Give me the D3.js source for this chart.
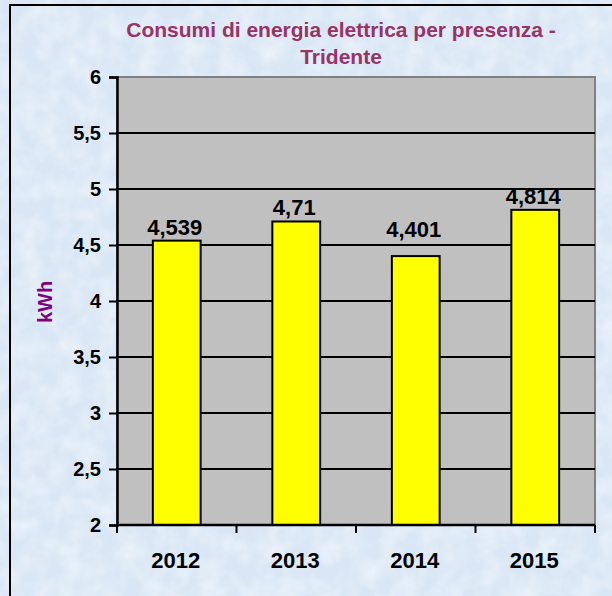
<!DOCTYPE html>
<html>
<head>
<meta charset="utf-8">
<script src="https://cdn.jsdelivr.net/npm/d3@7"></script>
<style>
  body { margin: 0; background: #e0ecf7; }
  text { font-family: "Liberation Sans", Arial, sans-serif; font-weight: bold; }
</style>
</head>
<body>
<div id="chart"></div>
<script>
// dati
var years = ["2012", "2013", "2014", "2015"];
var consumi = [4.539, 4.71, 4.401, 4.814];
var yTicks = [2, 2.5, 3, 3.5, 4, 4.5, 5, 5.5, 6];
var titleLines = ["Consumi di energia elettrica per presenza -", "Tridente"];

var width = 612;
var height = 596;
var plot = { left: 117, right: 595, top: 77, bottom: 525 };

var svg = d3
  .select("#chart")
  .append("svg")
  .attr("width", width)
  .attr("height", height);

// sfondo con un po' di texture
var defs = svg.append("defs");
var filt = defs.append("filter").attr("id", "tex");
filt.append("feTurbulence")
  .attr("type", "fractalNoise")
  .attr("baseFrequency", 0.05)
  .attr("numOctaves", 3)
  .attr("seed", 4);
filt.append("feColorMatrix")
  .attr("values", "0 0 0 0 1  0 0 0 0 1  0 0 0 0 1  0 0 0 0.8 -0.25");

svg.append("rect")
  .attr("width", width)
  .attr("height", height)
  .attr("fill", "#d8e6f5");
svg.append("rect")
  .attr("width", width)
  .attr("height", height)
  .attr("filter", "url(#tex)");

// cornice (solo sinistra e alto visibili)
svg.append("rect")
  .attr("x", 10)
  .attr("y", 5)
  .attr("width", 700)
  .attr("height", 700)
  .attr("fill", "none")
  .attr("stroke", "#000")
  .attr("stroke-width", 2);

var x = d3
  .scaleBand()
  .domain(years)
  .range([plot.left, plot.right])
  .paddingInner(0.6)
  .paddingOuter(0.3);

var y = d3.scaleLinear().domain([2, 6]).range([plot.bottom, plot.top]);

// area del grafico
svg.append("rect")
  .attr("x", plot.left)
  .attr("y", plot.top)
  .attr("width", plot.right - plot.left)
  .attr("height", plot.bottom - plot.top)
  .attr("fill", "#c0c0c0")
  .attr("stroke", "#808080")
  .attr("stroke-width", 2);

// griglia
svg.append("g")
  .selectAll("line")
  .data(yTicks.filter((d) => d > 2 && d < 6))
  .enter()
  .append("line")
  .attr("x1", plot.left)
  .attr("x2", plot.right)
  .attr("y1", (d) => y(d))
  .attr("y2", (d) => y(d))
  .attr("stroke", "#000")
  .attr("stroke-width", 2);

// asse Y
var axisLeft = d3
  .axisLeft(y)
  .tickValues(yTicks)
  .tickSize(8)
  .tickPadding(8)
  .tickFormat((d) => String(d).replace(".", ","));

var gy = svg.append("g")
  .attr("transform", `translate(${plot.left} 0)`)
  .call(axisLeft);
gy.select(".domain").attr("stroke-width", 2.5);
gy.selectAll(".tick line").attr("stroke-width", 2);
gy.selectAll(".tick text")
  .attr("font-size", 20)
  .attr("fill", "#000")
  .attr("font-family", null);

// barre
svg.append("g")
  .selectAll("rect")
  .data(consumi)
  .enter()
  .append("rect")
  .attr("x", (d, i) => x(years[i]))
  .attr("y", (d) => y(d))
  .attr("width", x.bandwidth())
  .attr("height", (d) => y(2) - y(d))
  .attr("fill", "#ffff00")
  .attr("stroke", "#000")
  .attr("stroke-width", 2);

// etichette valori
svg.append("g")
  .selectAll("text")
  .data(consumi)
  .enter()
  .append("text")
  .attr("x", (d, i) => x(years[i]) + x.bandwidth() / 2 - 2)
  .attr("y", (d) => y(Math.max(d, 4.52)) - 6)
  .attr("text-anchor", "middle")
  .attr("font-size", 22)
  .attr("fill", "#000")
  .text((d) => String(d).replace(".", ","));

// asse X: tacche ai confini delle categorie
var xb = d3.scaleLinear().domain([0, years.length]).range([plot.left, plot.right]);
svg.append("line")
  .attr("x1", plot.left)
  .attr("x2", plot.right)
  .attr("y1", plot.bottom)
  .attr("y2", plot.bottom)
  .attr("stroke", "#000")
  .attr("stroke-width", 2.5);
svg.append("g")
  .selectAll("line")
  .data(d3.range(years.length + 1))
  .enter()
  .append("line")
  .attr("x1", (d) => xb(d))
  .attr("x2", (d) => xb(d))
  .attr("y1", plot.bottom)
  .attr("y2", plot.bottom + 8)
  .attr("stroke", "#000")
  .attr("stroke-width", 2);

svg.append("g")
  .selectAll("text")
  .data(years)
  .enter()
  .append("text")
  .attr("x", (d) => x(d) + x.bandwidth() / 2 - 1)
  .attr("y", 568)
  .attr("text-anchor", "middle")
  .attr("font-size", 22)
  .attr("fill", "#000")
  .text((d) => d);

// titolo
svg.append("g")
  .selectAll("text")
  .data(titleLines)
  .enter()
  .append("text")
  .attr("x", 341)
  .attr("y", (d, i) => 37 + i * 27)
  .attr("text-anchor", "middle")
  .attr("font-size", 21)
  .attr("fill", "#993366")
  .text((d) => d);

// etichetta asse Y
svg.append("text")
  .attr("transform", "translate(52 302) rotate(-90)")
  .attr("text-anchor", "middle")
  .attr("font-size", 20)
  .attr("fill", "#800080")
  .text("kWh");
</script>
</body>
</html>
